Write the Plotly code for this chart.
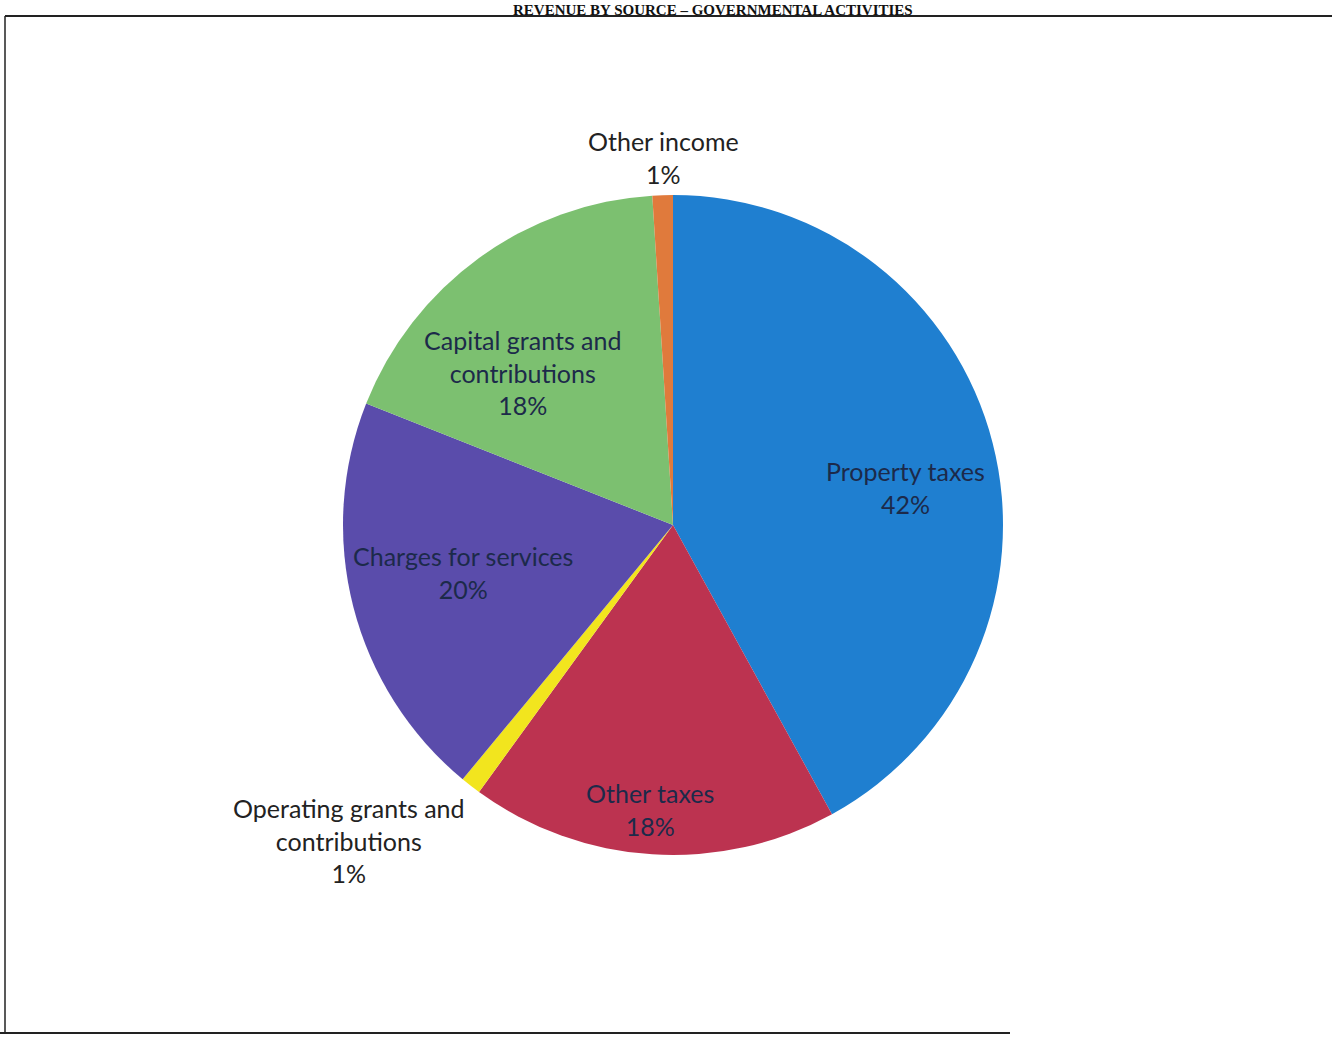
import plotly.graph_objects as go

# Data
categories = ["Property taxes", "Other taxes", "Operating grants and contributions",
              "Charges for services", "Capital grants and contributions", "Other income"]
label_text = ["Property taxes", "Other taxes", "Operating grants and<br>contributions",
              "Charges for services", "Capital grants and<br>contributions", "Other income"]
shares = [42, 18, 1, 20, 18, 1]
colors = ["#1f7fd0", "#bc3350", "#f2e51e", "#5a4cab", "#7cc070", "#e07a3c"]
label_inside = [True, True, False, True, True, False]
# label block centres (pixels from top-left of the page)
label_x = [905, 650, 349, 463, 523, 663]
label_y = [487, 809, 840, 572, 372, 157]

W, H = 1332, 1040
cx, cy, r = 673, 525, 330

total = sum(shares)
fig = go.Figure(go.Pie(
    labels=categories,
    values=shares,
    textinfo="none",
    sort=False,
    direction="clockwise",
    rotation=0,
    marker=dict(colors=colors, line=dict(color="rgba(0,0,0,0)", width=0)),
    showlegend=False,
    hoverinfo="label+percent",
    domain=dict(x=[(cx - r) / W, (cx + r) / W], y=[1 - (cy + r) / H, 1 - (cy - r) / H]),
))

annotations = []
for name, v, inside, lx, ly in zip(label_text, shares, label_inside, label_x, label_y):
    pct = round(100 * v / total)
    annotations.append(dict(
        text=f"{name}<br>{pct}%", xref="paper", yref="paper",
        x=lx / W, y=1 - ly / H, xanchor="center", yanchor="middle", showarrow=False,
        align="center",
        font=dict(family="Lato, Open Sans, sans-serif", size=25,
                  color="#1c2a4a" if inside else "#222222"),
    ))

annotations.append(dict(
    text="<b>REVENUE BY SOURCE – GOVERNMENTAL ACTIVITIES</b>", xref="paper", yref="paper",
    x=713 / W, y=1, xanchor="center", yanchor="top", showarrow=False,
    font=dict(family="Liberation Serif, serif", size=15, color="#111")))

fig.update_layout(
    width=W, height=H,
    margin=dict(l=0, r=0, t=0, b=0),
    paper_bgcolor="white",
    plot_bgcolor="white",
    shapes=[
        dict(type="line", xref="paper", yref="paper", x0=5 / W, x1=1, y0=1 - 16 / H, y1=1 - 16 / H,
             line=dict(color="#222", width=2)),
        dict(type="line", xref="paper", yref="paper", x0=5 / W, x1=5 / W, y0=1 - 16 / H, y1=1 - 1033 / H,
             line=dict(color="#222", width=1.5)),
        dict(type="line", xref="paper", yref="paper", x0=0, x1=1010 / W, y0=1 - 1033 / H, y1=1 - 1033 / H,
             line=dict(color="#222", width=2)),
    ],
    annotations=annotations,
)

fig.write_html("out.html")
